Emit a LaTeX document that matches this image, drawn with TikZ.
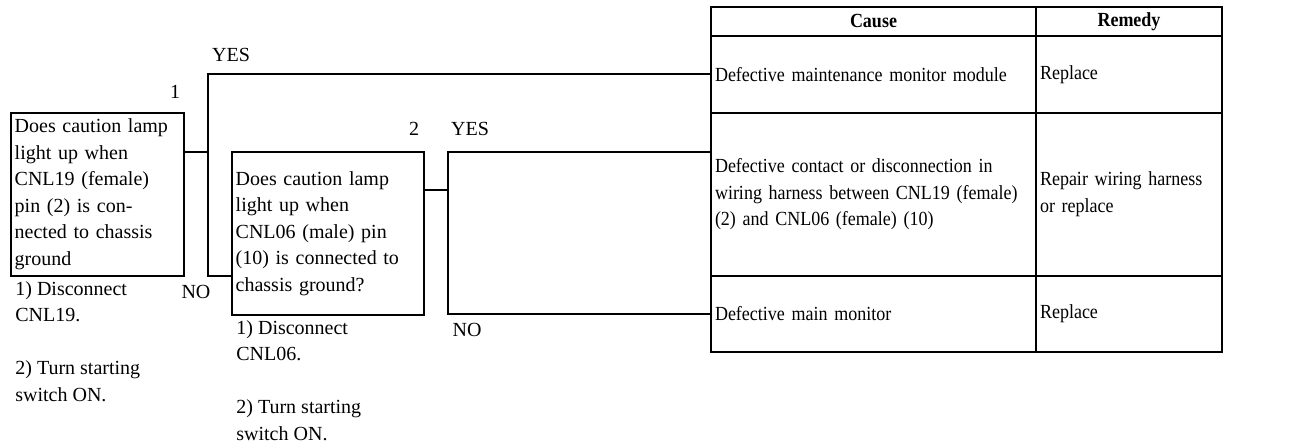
\documentclass[tikz,border=0pt]{standalone}
\usepackage{fontspec}
\setmainfont{Liberation Serif}
\newfontfamily\tablefont[FakeStretch=0.9]{Liberation Serif}
\usetikzlibrary{positioning}

\tikzset{
  wire/.style={line width=1pt},
  qbox/.style={draw,line width=1pt,align=left,inner xsep=2pt,inner ysep=0pt,outer sep=0pt},
  note/.style={align=left,inner sep=0pt},
  cell/.style={draw,line width=1pt,align=left,inner xsep=2pt,inner ysep=0pt,outer sep=0pt,
    font=\fontsize{10}{13.25}\tablefont},
  hcell/.style={cell,align=center,font=\fontsize{10}{13.25}\tablefont\bfseries,minimum height=14.35pt}
}

\begin{document}
\begin{tikzpicture}[x=0.5pt,y=-0.5pt,
   every node/.style={font=\fontsize{10}{13.25}\selectfont}]
\useasboundingbox (0,0) rectangle (1308,444);

% checks
\node[qbox,text width=82.65pt,minimum height=81.65pt] (q1) at (97.35,194.35)
  {Does caution lamp\\light up when\\CNL19 (female)\\pin (2) is con-\\nected to chassis\\ground};
\node[qbox,text width=92.15pt,minimum height=81.35pt] (q2) at (327.85,233.65)
  {Does caution lamp\\light up when\\CNL06 (male) pin\\(10) is connected to\\chassis ground?};

\node[note,below right=2.5pt and 2.15pt of q1.south west] (n1)
  {1) Disconnect\\CNL19.\\[13.25pt]2) Turn starting\\switch ON.};
\node[note,below right=2.5pt and 2.15pt of q2.south west] (n2)
  {1) Disconnect\\CNL06.\\[13.25pt]2) Turn starting\\switch ON.};

% cause / remedy table
\node[hcell,anchor=north west,text width=158.5pt] (hcause) at (711,7) {Cause};
\node[hcell,text width=89pt,right=0pt of hcause] (hremedy) {Remedy};
\node[cell,text width=158.5pt,minimum height=38.5pt,below=0pt of hcause] (cause1)
  {Defective maintenance monitor module};
\node[cell,text width=89pt,minimum height=38.5pt,right=0pt of cause1] (remedy1) {Replace};
\node[cell,text width=158.5pt,minimum height=81.65pt,below=0pt of cause1] (cause2)
  {Defective contact or disconnection in\\wiring harness between CNL19 (female)\\(2) and CNL06 (female) (10)};
\node[cell,text width=89pt,minimum height=81.65pt,right=0pt of cause2] (remedy2)
  {Repair wiring harness\\or replace};
\node[cell,text width=158.5pt,minimum height=38pt,below=0pt of cause2] (cause3)
  {Defective main monitor};
\node[cell,text width=89pt,minimum height=38pt,right=0pt of cause3] (remedy3) {Replace};

% branches
\coordinate (j1) at (207.7,151.7);
\coordinate (j2) at (447.7,190);
\draw[wire] (q1.east |- j1) -- (j1);
\draw[wire] (cause1.west) -| (j1) |- (q2.west |- q1.south);
\draw[wire] (q2.east |- j2) -- (j2);
\draw[wire] (cause2.west |- q2.north) -| (j2) |- (cause3.west);

\node (yes1) at (231,55) {YES};
\node (no1) at (196,292) {NO};
\node (one) at (175,92) {1};
\node (two) at (414,129) {2};
\node (yes2) at (470,129) {YES};
\node (no2) at (467,330) {NO};
\end{tikzpicture}
\end{document}
